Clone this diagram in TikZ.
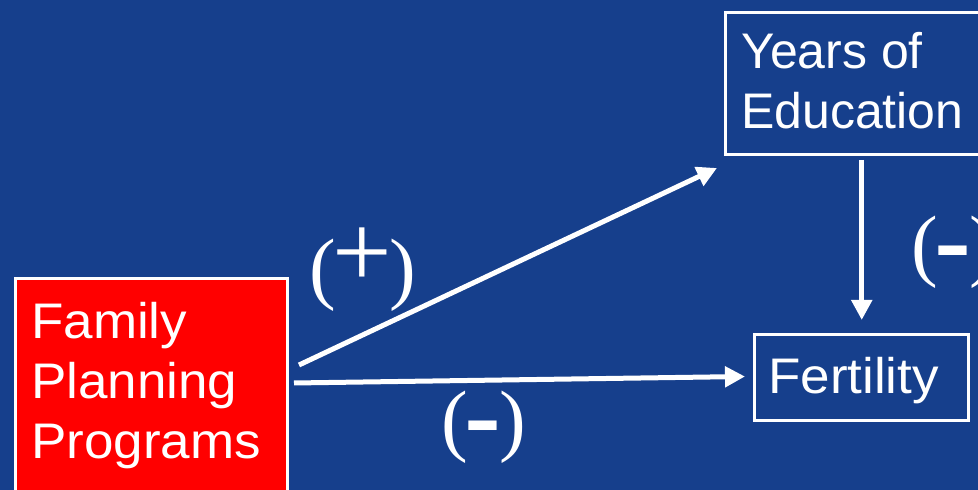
\documentclass[tikz,border=0pt]{standalone}
\usepackage{graphicx}
\usepackage{fontspec}
\setmainfont{Liberation Sans}
\newfontfamily\signserif{Liberation Serif}
\newfontfamily\signsans{Liberation Sans}
\usetikzlibrary{arrows.meta,calc}
\definecolor{bgblue}{HTML}{163F8C}
\newcommand{\thickdash}{\kern-2.8pt{\signsans\bfseries\scalebox{1.39}[1]{-}}\kern-2.8pt}
\newcommand{\bigplus}{\kern-3.1pt\smash{\raisebox{7.3pt}{\scalebox{1.32}{+}}}\kern-3.1pt}
\newcommand{\wline}[1]{\scalebox{1.06}[1]{\strut #1}}
\begin{document}
\begin{tikzpicture}[x=1pt,y=1pt,
  box/.style={draw=white, line width=3pt, inner sep=0pt, anchor=north west},
  boxtext/.style={text=white, font=\fontsize{50}{60}\selectfont, align=left, inner sep=0pt, anchor=north west},
  sign/.style={text=white, font=\fontsize{80}{90}\selectfont\signserif, inner sep=0pt},
  arr/.style={draw=white, line width=5pt, -{Triangle[length=20pt,width=20pt]}}]
\fill[bgblue] (0,0) rectangle (978,490);
\useasboundingbox (0,0) rectangle (978,490);
% boxes
\node[box, fill=red, minimum width=272pt, minimum height=218pt] (fpp) at (13.5,212.5) {};
\node[box, minimum width=266.5pt, minimum height=142pt] (yoe) at (723.5,478.5) {};
\node[box, minimum width=214pt, minimum height=86pt] (fert) at (752.5,156.5) {};
% texts
\node[boxtext] (fpptext) at (31,194) {\wline{Family}\\\wline{Planning}\\\wline{Programs}};
\node[boxtext] (yoetext) at (741,464) {\strut Years of\\\strut Education};
\node[boxtext] (ferttext) at (768,139) {\wline{Fertility}};
% arrows
\draw[arr] ($(fpp.north east)+(10.5,-87.5)$) -- ($(yoe.south west)+(-6.5,-11.5)$);
\draw[arr] ($(fpp.north east)+(5.5,-105.5)$) -- ($(fert.west)+(-7.5,1.5)$);
\draw[arr] ($(yoe.south)+(3.5,-3.5)$) -- ($(fert.north)+(0.75,13.5)$);
% signs
\node[sign] (plus) at (362.5,214.7) {(\bigplus)};
\node[sign] (minusa) at (483.5,62.7) {(\thickdash)};
\node[sign] (minusb) at (953.5,237.7) {(\thickdash)};
\end{tikzpicture}
\end{document}
